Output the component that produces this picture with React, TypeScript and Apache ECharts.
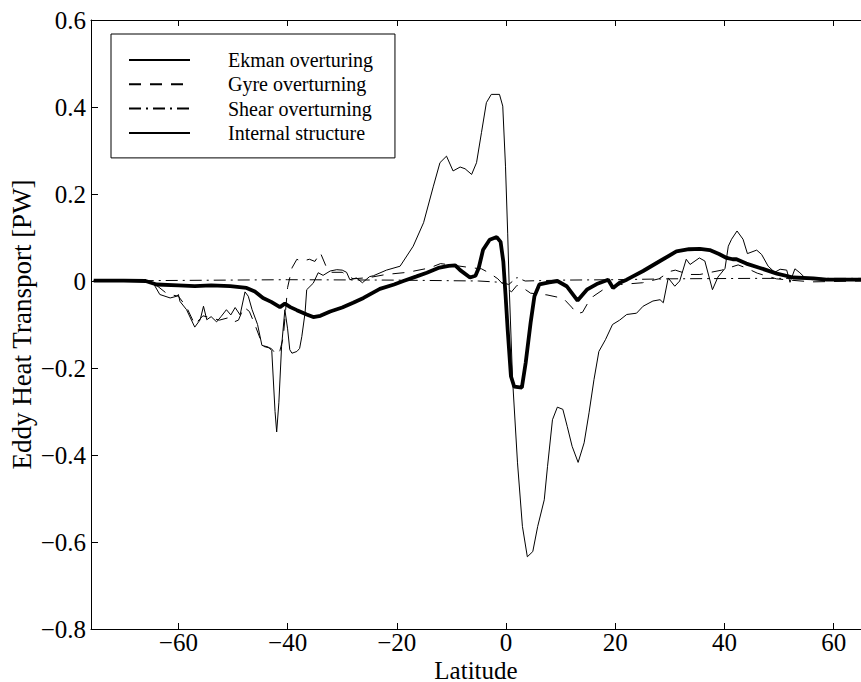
import React, { useEffect, useRef } from "react";
import * as echarts from "echarts";

// ---------- data ----------
const ekmanLat = [-75.5, -70, -66, -64, -60, -57, -54, -50.5, -47.5, -46, -44.5, -43, -41.4, -40.5, -39.5, -38.3, -36.5, -35.3, -34, -32.2, -30, -28, -26.1, -23.1, -20.5, -18.8, -16.5, -14.5, -12.4, -10.5, -9.3, -8.4, -6.6, -5.6, -5, -4.2, -3, -1.7, -1, -0.5, -0.1, 0.3, 0.9, 1.5, 2.9, 3.6, 4.5, 5.2, 6.1, 7.9, 9.4, 11.1, 13.1, 14.8, 16.6, 18.7, 19.6, 20.8, 22.1, 25.1, 28.2, 31.2, 33.5, 35.5, 37.3, 39, 40.4, 41.5, 42.2, 44, 46.5, 49.6, 52.6, 56.3, 58.7, 65];
const ekmanVal = [0.001, 0.001, 0.0, -0.008, -0.01, -0.012, -0.01, -0.012, -0.016, -0.024, -0.039, -0.048, -0.06, -0.052, -0.06, -0.067, -0.077, -0.083, -0.08, -0.07, -0.061, -0.05, -0.039, -0.018, -0.008, 0.0, 0.01, 0.019, 0.03, 0.035, 0.036, 0.025, 0.008, 0.012, 0.03, 0.072, 0.095, 0.101, 0.09, 0.045, -0.03, -0.112, -0.219, -0.243, -0.245, -0.188, -0.096, -0.035, -0.008, -0.003, 0.0, -0.012, -0.045, -0.02, -0.007, 0.003, -0.016, -0.004, 0.003, 0.023, 0.046, 0.068, 0.073, 0.074, 0.071, 0.062, 0.053, 0.05, 0.05, 0.04, 0.03, 0.017, 0.008, 0.006, 0.003, 0.003];

const gyreLat = [-75.5, -66, -64, -62, -60, -58.5, -57, -55.5, -54, -52.5, -51, -50, -49, -48, -47, -46, -44.5, -43, -42, -41.4, -40.8, -40, -39.2, -38.3, -37.5, -36, -35, -34, -33, -32, -30, -28, -25, -22, -18, -14, -12, -9, -6, -4.5, -3, -1.5, 0, 1, 2, 3, 4.5, 7.5, 10.5, 12, 13, 14, 15, 16, 18, 21, 25, 28, 30, 31, 33.5, 35.5, 37.5, 39.5, 42.5, 44, 46, 49.5, 52, 56, 65];
const gyreVal = [0.0, 0.0, -0.01, -0.03, -0.035, -0.06, -0.1, -0.08, -0.085, -0.09, -0.085, -0.095, -0.09, -0.06, -0.07, -0.1, -0.15, -0.155, -0.17, -0.16, -0.13, -0.015, 0.03, 0.05, 0.045, 0.05, 0.045, 0.065, 0.035, 0.02, 0.02, 0.005, 0.008, 0.015, 0.02, 0.03, 0.04, 0.035, 0.03, 0.028, 0.018, 0.005, -0.015, -0.025, -0.01, -0.015, -0.028, -0.032, -0.04, -0.06, -0.075, -0.072, -0.05, -0.035, -0.018, -0.008, -0.004, 0.005, 0.022, 0.025, 0.015, 0.015, 0.02, 0.025, 0.037, 0.03, 0.018, 0.005, 0.002, -0.002, 0.0];

const shearLat = [-75.5, -40, -20, -5, -1, 0.5, 2, 3.5, 10, 20, 30, 45, 65];
const shearVal = [0.0, 0.003, 0.002, 0.0, -0.003, -0.008, 0.008, 0.0, 0.002, 0.003, 0.005, 0.006, 0.006];

const internalLat = [-75.5, -66, -64.6, -63.4, -61.5, -60.3, -60, -59.7, -58.5, -57, -56, -55.4, -54.8, -54, -53, -52.2, -51.2, -50.4, -49.6, -48.7, -47.8, -47.2, -46.5, -45.5, -44.7, -43.5, -42.9, -42.3, -42, -41.6, -41.1, -40.5, -40, -39.6, -39.2, -38.3, -37.8, -37.4, -36.8, -36.5, -35.3, -34.4, -33.5, -32.2, -31, -30, -29.2, -28.6, -27.4, -26.3, -25, -24.3, -21.9, -19.4, -17, -15.1, -13.3, -12.1, -10.9, -9.7, -8.4, -7.5, -6.3, -5.4, -4.5, -3.6, -2.7, -1.2, -0.6, -0.1, 0.3, 0.6, 1.2, 2.1, 3.0, 3.9, 4.9, 5.8, 7.0, 7.6, 8.5, 9.4, 10.4, 11.2, 12.1, 13.2, 14.3, 15.2, 16.1, 17.0, 18.2, 19.5, 20.8, 22.1, 23.9, 25.1, 26.9, 28.2, 28.8, 29.7, 30.9, 31.8, 33, 33.7, 35.4, 36.4, 37.8, 38.8, 40.1, 40.7, 41.3, 42.3, 43.4, 44.2, 45.9, 46.8, 48, 49.2, 50.2, 51.4, 52, 52.9, 53.8, 54.7, 56, 60, 65];
const internalVal = [0.001, 0.0, -0.005, -0.031, -0.039, -0.035, -0.031, -0.047, -0.066, -0.106, -0.089, -0.058, -0.089, -0.082, -0.094, -0.082, -0.066, -0.078, -0.061, -0.078, -0.025, -0.035, -0.066, -0.1, -0.148, -0.152, -0.16, -0.3, -0.347, -0.28, -0.15, -0.066, -0.11, -0.158, -0.166, -0.162, -0.155, -0.128, -0.073, -0.02, -0.005, 0.019, 0.013, 0.023, 0.026, 0.025, 0.02, 0.003, 0.007, -0.004, 0.01, 0.012, 0.025, 0.034, 0.08, 0.134, 0.218, 0.272, 0.287, 0.253, 0.262, 0.258, 0.245, 0.272, 0.341, 0.41, 0.429, 0.429, 0.402, 0.264, 0.11, -0.02, -0.227, -0.418, -0.564, -0.634, -0.622, -0.564, -0.503, -0.426, -0.319, -0.29, -0.295, -0.334, -0.38, -0.417, -0.372, -0.303, -0.227, -0.162, -0.135, -0.1, -0.09, -0.077, -0.074, -0.058, -0.046, -0.043, -0.05, 0.007, -0.012, 0.0, 0.05, 0.038, 0.053, 0.046, -0.02, 0.009, 0.029, 0.08, 0.096, 0.115, 0.096, 0.063, 0.071, 0.061, 0.034, 0.02, 0.027, 0.025, -0.003, 0.028, 0.019, 0.008, 0.003, 0.002, 0.002];

const xTicks = [-60, -40, -20, 0, 20, 40, 60];
const seriesNames = ["Ekman overturing", "Gyre overturning", "Shear overturning", "Internal structure"];

const FONT = "Liberation Serif";
const pair = (xs: number[], ys: number[]) => xs.map((x, i) => [x, ys[i]]);
const fmtX = (v: number) => (v < 0 ? "\u2212" + Math.abs(v) : String(v));
const fmtY = (v: number) => {
  if (Math.abs(v) < 1e-9) return "0";
  const s = Math.abs(v).toFixed(1);
  return v < 0 ? "\u2212" + s : s;
};

export default function App() {
  const ref = useRef<HTMLDivElement>(null);
  useEffect(() => {
    if (!ref.current) return;
    const chart = echarts.init(ref.current, null, { renderer: "svg" });
    const black = "#000";
    const xBase = {
      type: "value",
      min: -76,
      max: 65,
      splitLine: { show: false },
      axisLine: { show: true, onZero: false, lineStyle: { color: black, width: 1 } },
      axisTick: { show: true, inside: true, length: 6, customValues: xTicks, lineStyle: { color: black, width: 1 } },
    };
    chart.setOption({
      animation: false,
      backgroundColor: "#fff",
      textStyle: { fontFamily: FONT, color: black },
      grid: { left: 91, right: 0, top: 20, bottom: 53, containLabel: false, outerBoundsMode: "none" },
      legend: {
        orient: "vertical",
        left: 111,
        top: 34,
        padding: [16, 22, 15, 17],
        itemWidth: 61,
        itemHeight: 14,
        itemGap: 4.3,
        borderColor: black,
        borderWidth: 1,
        borderRadius: 0,
        backgroundColor: "#fff",
        itemStyle: { opacity: 0, color: "rgba(0,0,0,0)", borderWidth: 0 },
        textStyle: { fontFamily: FONT, fontSize: 20, color: black, padding: [0, 0, 0, 33], lineHeight: 20 },
        data: seriesNames,
      },
      xAxis: [
        {
          ...xBase,
          position: "bottom",
          axisLabel: {
            customValues: xTicks,
            formatter: fmtX,
            color: black,
            fontSize: 25,
            lineHeight: 20,
            fontFamily: FONT,
            margin: 3,
          },
          name: "Latitude",
          nameLocation: "middle",
          nameGap: 32,
          nameMoveOverlap: false,
          nameTextStyle: { fontFamily: FONT, fontSize: 25, color: black, lineHeight: 18 },
        },
        {
          ...xBase,
          position: "top",
          axisLabel: { show: false },
        },
      ],
      yAxis: [
        {
          type: "value",
          min: -0.8,
          max: 0.6,
          interval: 0.2,
          splitLine: { show: false },
          axisLine: { show: true, onZero: false, lineStyle: { color: black, width: 1 } },
          axisTick: { show: true, inside: true, length: 7, lineStyle: { color: black, width: 1 } },
          axisLabel: { formatter: fmtY, color: black, fontSize: 25, fontFamily: FONT, margin: 5 },
          name: "Eddy Heat Transport [PW]",
          nameLocation: "middle",
          nameGap: 56,
          nameMoveOverlap: false,
          nameTextStyle: { fontFamily: FONT, fontSize: 27, color: black },
        },
      ],
      series: [
        {
          type: "line",
          name: "Internal structure",
          data: pair(internalLat, internalVal),
          symbol: "none",
          showSymbol: false,
          lineStyle: { color: black, width: 1 },
          itemStyle: { color: black },
          z: 2,
        },
        {
          type: "line",
          name: "Shear overturning",
          data: pair(shearLat, shearVal),
          symbol: "none",
          showSymbol: false,
          lineStyle: { color: black, width: 1, type: [12, 5, 2, 5] },
          itemStyle: { color: black },
          z: 3,
        },
        {
          type: "line",
          name: "Gyre overturning",
          data: pair(gyreLat, gyreVal),
          symbol: "none",
          showSymbol: false,
          lineStyle: { color: black, width: 1, type: [12, 9] },
          itemStyle: { color: black },
          z: 4,
        },
        {
          type: "line",
          name: "Ekman overturing",
          data: pair(ekmanLat, ekmanVal),
          symbol: "none",
          showSymbol: false,
          lineStyle: { color: black, width: 3.8 },
          itemStyle: { color: black },
          z: 5,
        },
      ],
    });
    return () => chart.dispose();
  }, []);
  return (
    <div
      ref={ref}
      style={{ position: "absolute", left: 0, top: 0, width: 861, height: 682, background: "#fff" }}
    />
  );
}
